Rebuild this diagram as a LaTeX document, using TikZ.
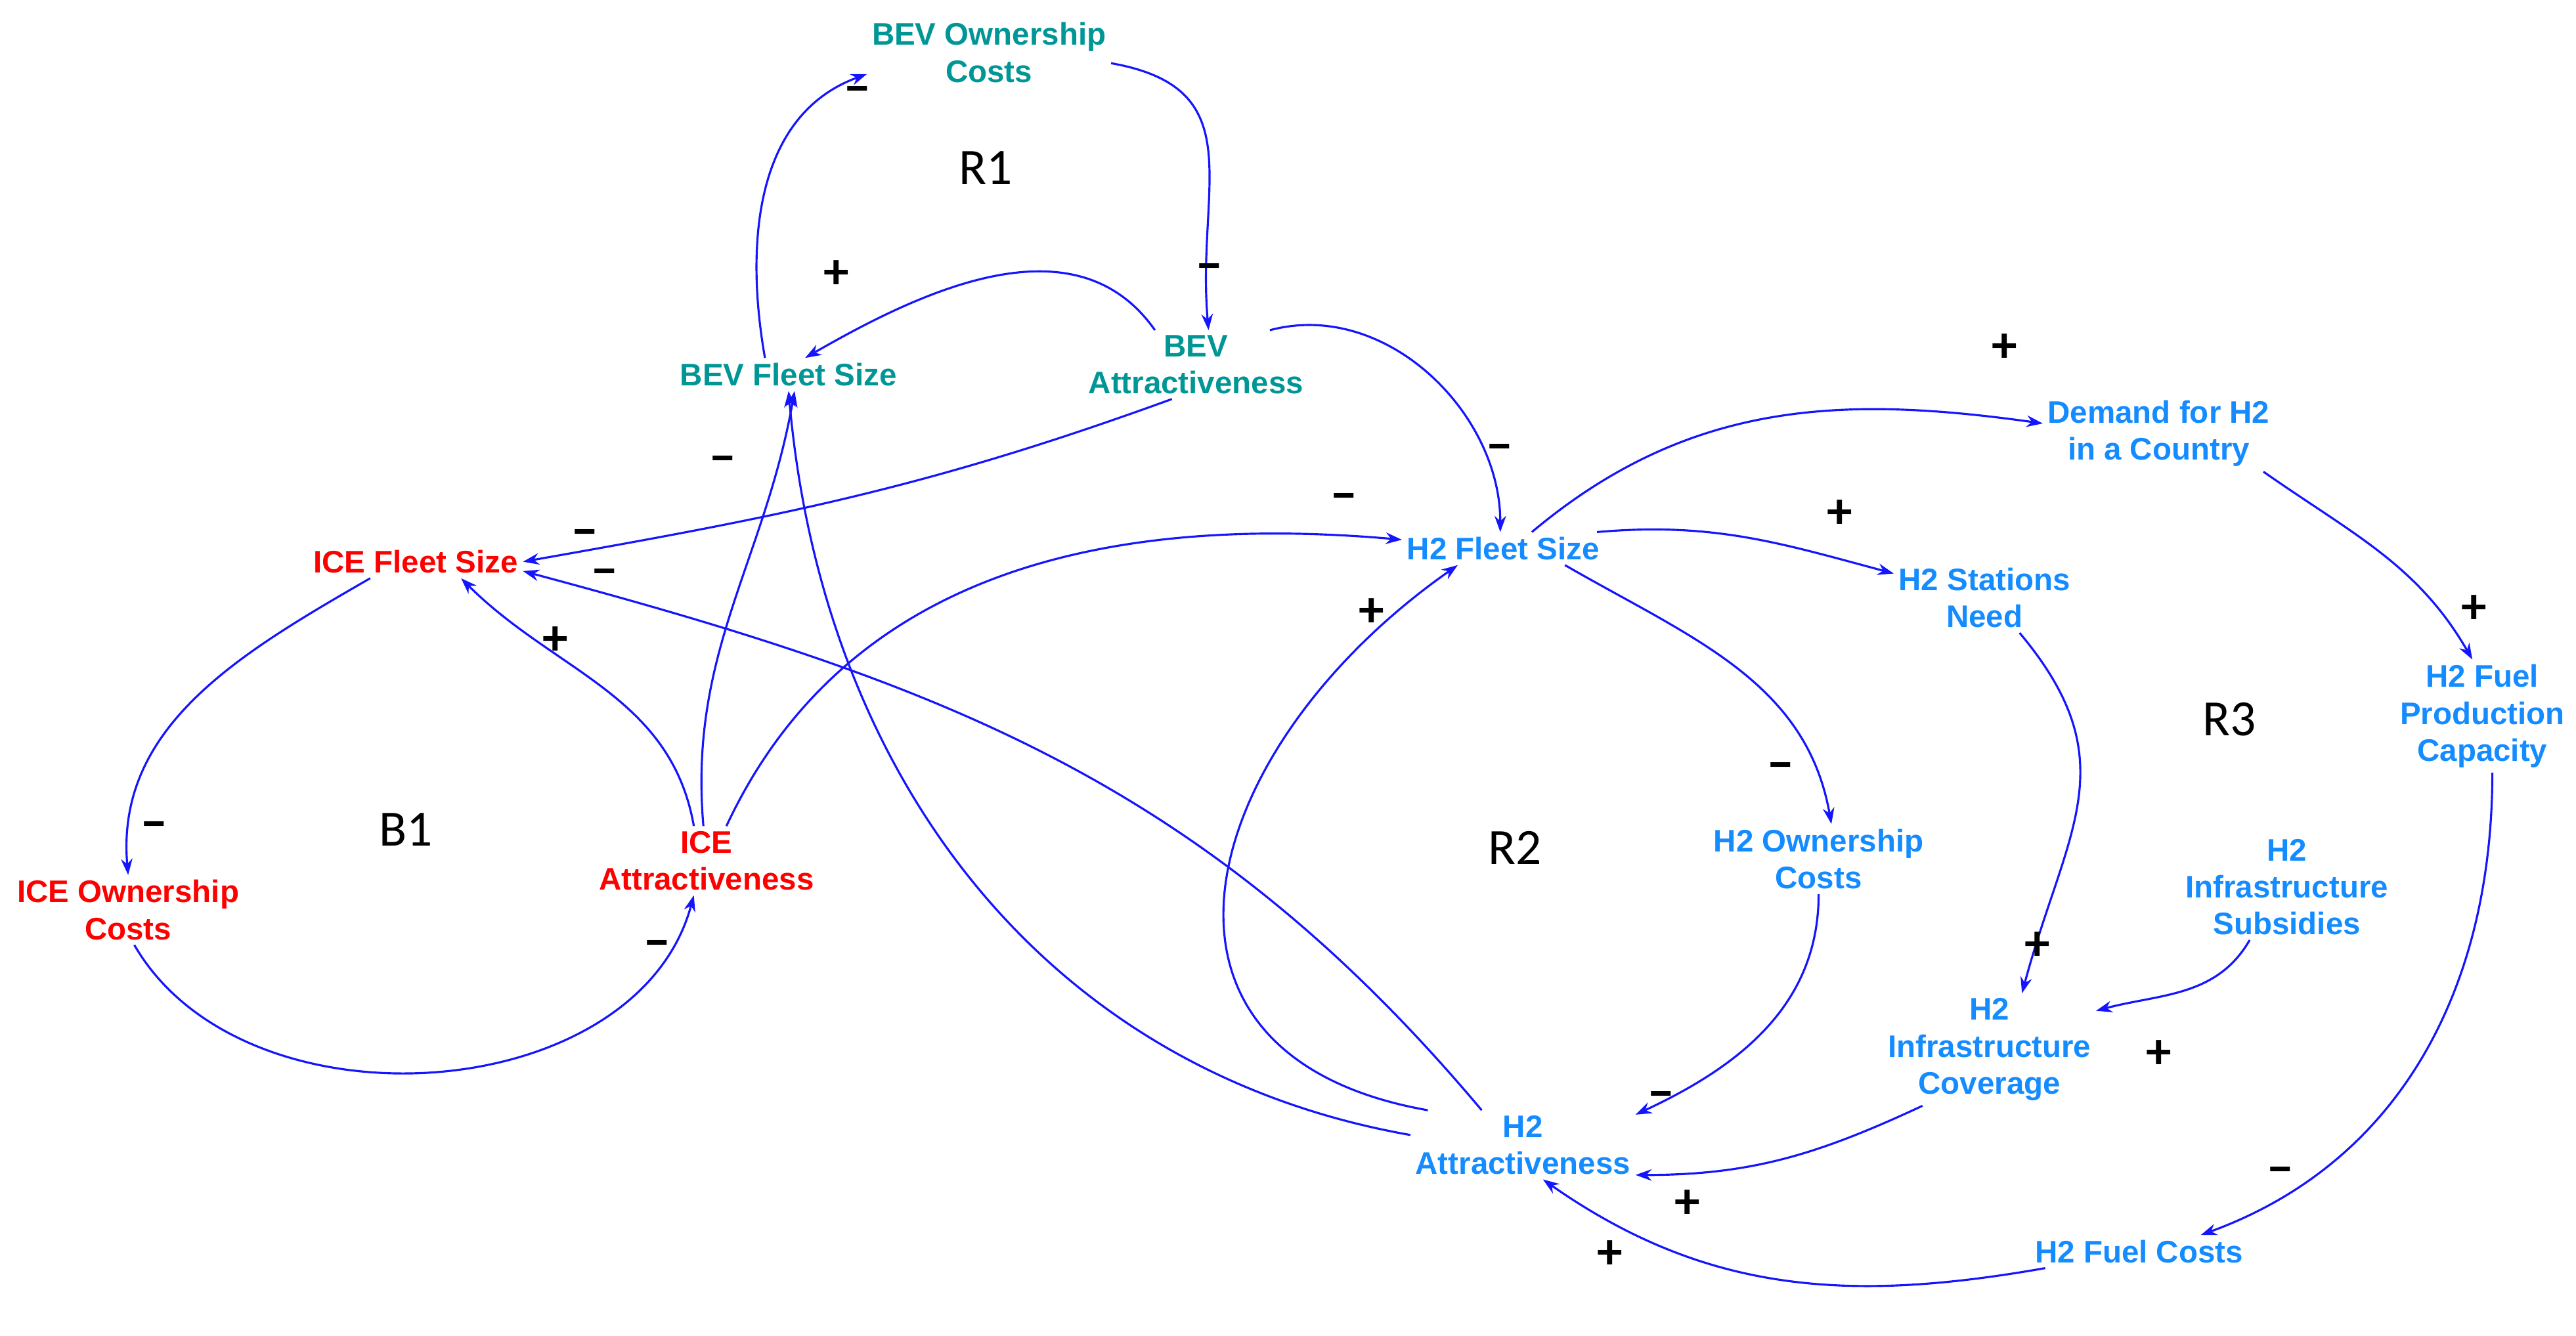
\documentclass[tikz,border=0pt]{standalone}
\usepackage{fontspec}
\setmainfont{Liberation Sans}
\newfontfamily\loopfont{Carlito}
\usetikzlibrary{arrows.meta}
\definecolor{bevc}{RGB}{0,150,150}
\definecolor{icec}{RGB}{255,0,0}
\definecolor{hc}{RGB}{20,140,255}
\definecolor{arr}{RGB}{20,20,255}
\begin{document}
\begin{tikzpicture}[x=0.025cm,y=0.025cm,
  v/.style={font=\bfseries\fontsize{13.5}{16}\selectfont,align=center,inner sep=2pt},
  bev/.style={v,text=bevc},ice/.style={v,text=icec},hh/.style={v,text=hc},
  lp/.style={font=\loopfont\fontsize{22}{24}\selectfont},
  pol/.style={font=\loopfont\bfseries\fontsize{22}{24}\selectfont},
  e/.style={draw=arr,line width=0.9pt,-{Stealth[length=7pt,width=5pt]}}]
\useasboundingbox (0,0) rectangle (1568,813);
\node[bev] (BEVOC) at (602,781) {BEV Ownership\\Costs};
\node[lp] (R1) at (600,711) {R1};
\node[bev] (BEVFS) at (480,585) {BEV Fleet Size};
\node[bev] (BEVA) at (728,591) {BEV\\Attractiveness};
\node[ice] (ICEFS) at (253,471) {ICE Fleet Size};
\node[lp] (B1) at (247,308) {B1};
\node[ice] (ICEOC) at (78,259) {ICE Ownership\\Costs};
\node[ice] (ICEA) at (430,289) {ICE\\Attractiveness};
\node[hh] (H2FS) at (915,479) {H2 Fleet Size};
\node[hh] (Dem) at (1314,549) {Demand for H2\\in a Country};
\node[hh] (Stat) at (1208,449) {H2 Stations\\Need};
\node[lp] (R3) at (1357,375) {R3};
\node[hh] (Prod) at (1511,377) {H2 Fuel\\Production\\Capacity};
\node[hh] (H2OC) at (1107,290) {H2 Ownership\\Costs};
\node[lp] (R2) at (922,297) {R2};
\node[hh] (Subs) at (1392,273) {H2\\Infrastructure\\Subsidies};
\node[hh] (Cov) at (1211,174) {H2\\Infrastructure\\Coverage};
\node[hh] (H2A) at (927,116) {H2\\Attractiveness};
\node[hh] (Fuel) at (1302,51) {H2 Fuel Costs};
% connectors
\draw[e] (BEVFS.145) to[out=100,in=200] (BEVOC.190);
\draw[e] (BEVOC.-5) to[out=-10,in=95,looseness=1.3] (BEVA.70);
\draw[e] (BEVA.140) to[out=125,in=30] (BEVFS.45);
\draw[e] (BEVA.25) to[out=15,in=90] (H2FS.100);
\draw[e] (BEVA.235) to[out=200,in=10] (ICEFS.east);
\draw[e] (ICEFS.200) to[out=210,in=95] (ICEOC.north);
\draw[e] (ICEOC.-80) to[out=-60,in=-105] (ICEA.-110);
\draw[e] (ICEA.110) to[out=100,in=-45] (ICEFS.-20);
\draw[e] (ICEA.95) to[out=95,in=-100] (BEVFS.-70);
\draw[e] (ICEA.60) to[out=65,in=175] (H2FS.175);
\draw[e] (H2A.175) to[out=170,in=-85] (BEVFS.-90);
\draw[e] (H2A.140) to[out=130,in=-15] (ICEFS.-5);
\draw[e] (H2A.160) to[out=170,in=215,looseness=1.5] (H2FS.200);
\draw[e] (H2FS.30) to[out=40,in=172] (Dem.175);
\draw[e] (H2FS.10) to[out=5,in=165] (Stat.165);
\draw[e] (H2FS.-15) to[out=-30,in=100] (H2OC.70);
\draw[e] (Dem.-20) to[out=-35,in=120] (Prod.100);
\draw[e] (Prod.-80) to[out=-90,in=20] (Fuel.15);
\draw[e] (Stat.-45) to[out=-50,in=75,looseness=1.2] (Cov.60);
\draw[e] (Subs.-125) to[out=-120,in=15] (Cov.20);
\draw[e] (H2OC.-90) to[out=-90,in=25] (H2A.15);
\draw[e] (Cov.-140) to[out=-155,in=0] (H2A.-15);
\draw[e] (Fuel.190) to[out=190,in=-35] (H2A.-60);
% polarities
\foreach \p/\x/\y in {−/522/755, −/736/647, +/509/646, −/913/537, −/356/485,
  −/94/307, −/400/235, +/338/423, −/440/530, −/818/507, −/368/461, +/835/440,
  +/1220/601, +/1120/500, −/1084/343, +/1506/442, −/1388/97, +/1240/237,
  +/1314/171, −/1011/143, +/1027/80, +/980/49}
  \node[pol] at (\x,\y) {\p};
\end{tikzpicture}
\end{document}
